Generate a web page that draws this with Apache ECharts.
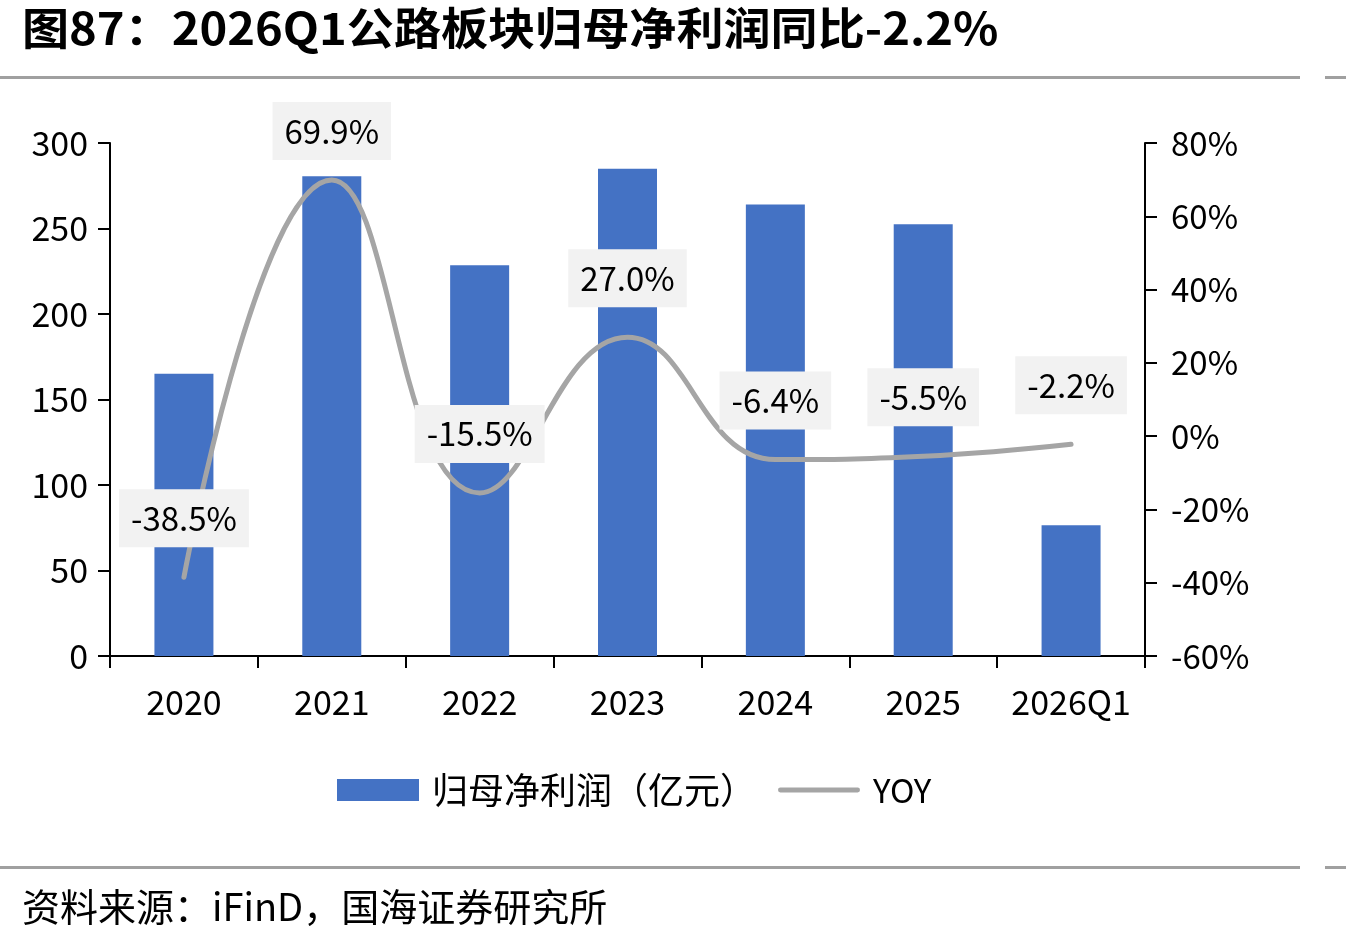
<!DOCTYPE html>
<html>
<head>
<meta charset="utf-8">
<script src="https://cdn.jsdelivr.net/npm/echarts@6/dist/echarts.min.js"></script>
<style>
  html, body { margin: 0; padding: 0; background: #fff; }
  #main { width: 1346px; height: 943px; }
</style>
</head>
<body>
<div id="main"></div>
<script>
// 数据
var years = ['2020', '2021', '2022', '2023', '2024', '2025', '2026Q1']
var profit = [165, 280.5, 228.5, 285, 264, 252.5, 76.5]
var yoy = [-38.5, 69.9, -15.5, 27.0, -6.4, -5.5, -2.2]
var leftTicks = [0, 300, 50]
var rightTicks = [-60, 80, 20]

var font = 'Noto Sans CJK SC'
var myChart = echarts.init(document.getElementById('main'))

var option = {
  animation: false,
  backgroundColor: '#fff',
  textStyle: { fontFamily: font },
  legend: {
    top: 767,
    left: 332,
    itemWidth: 82,
    itemHeight: 22,
    itemGap: 22,
    formatter: function (name) {
      return name === 'YOY' ? '{y|' + name + '}' : name
    },
    textStyle: {
      fontFamily: font,
      fontSize: 36,
      color: '#000',
      padding: [0, 0, 0, 8],
      rich: { y: { fontSize: 33, fontFamily: font, color: '#000' } }
    },
    data: [
      { name: '归母净利润（亿元）', icon: 'rect' },
      { name: 'YOY', icon: 'path://M2.5,0 L83.5,0 A2.5,2.5 0 0 1 83.5,5 L2.5,5 A2.5,2.5 0 0 1 2.5,0 Z' }
    ]
  },
  grid: { left: 110, right: 201, top: 143, bottom: 287 },
  xAxis: [{
    type: 'category',
    data: years,
    axisLine: { lineStyle: { color: '#000', width: 2 } },
    axisTick: { show: true, interval: 0, length: 12, lineStyle: { color: '#000', width: 2 } },
    axisLabel: { margin: 29, fontSize: 34, color: '#000', fontFamily: font, interval: 0 }
  }],
  yAxis: [
    {
      type: 'value',
      min: leftTicks[0],
      max: leftTicks[1],
      interval: leftTicks[2],
      splitLine: { show: false },
      axisLine: { show: true, lineStyle: { color: '#000', width: 2 } },
      axisTick: { show: true, length: 12, lineStyle: { color: '#000', width: 2 } },
      axisLabel: { margin: 22, fontSize: 34, color: '#000', fontFamily: font }
    },
    {
      type: 'value',
      min: rightTicks[0],
      max: rightTicks[1],
      interval: rightTicks[2],
      splitLine: { show: false },
      axisLine: { show: true, lineStyle: { color: '#000', width: 2 } },
      axisTick: { show: true, length: 12, lineStyle: { color: '#000', width: 2 } },
      axisLabel: {
        margin: 26, fontSize: 33, color: '#000', fontFamily: font,
        formatter: function (v) { return v + '%' }
      }
    }
  ],
  series: [
    {
      name: '归母净利润（亿元）',
      type: 'bar',
      barWidth: 59,
      itemStyle: { color: '#4472c4' },
      data: profit
    },
    {
      name: 'YOY',
      type: 'line',
      yAxisIndex: 1,
      smooth: 0.45,
      showSymbol: true,
      symbol: 'circle',
      symbolSize: 0,
      lineStyle: { color: '#a5a5a5', width: 5, cap: 'round' },
      itemStyle: { color: '#a5a5a5' },
      label: {
        show: true,
        position: 'top',
        distance: 30,
        fontSize: 33,
        color: '#000',
        fontFamily: font,
        backgroundColor: '#f2f2f2',
        padding: [10, 12],
        lineHeight: 38,
        formatter: function (p) { return p.value.toFixed(1) + '%' }
      },
      data: yoy.map(function (v, i) {
        if (i === 1) return { value: v, label: { distance: 20 } }
        return v
      })
    }
  ],
  graphic: [
    { type: 'rect', shape: { x: 0, y: 76, width: 1300, height: 3 }, style: { fill: '#a0a0a0' } },
    { type: 'rect', shape: { x: 1325, y: 76, width: 21, height: 3 }, style: { fill: '#a0a0a0' } },
    { type: 'rect', shape: { x: 0, y: 866, width: 1300, height: 3 }, style: { fill: '#a0a0a0' } },
    { type: 'rect', shape: { x: 1325, y: 866, width: 21, height: 3 }, style: { fill: '#a0a0a0' } },
    {
      type: 'text',
      x: 22,
      y: 6,
      scaleX: 1.07,
      style: { text: '图87：2026Q1公路板块归母净利润同比-2.2%', fill: '#000', font: 'bold 44px "Noto Sans CJK SC"' }
    },
    {
      type: 'text',
      x: 22,
      y: 888,
      style: { text: '资料来源：iFinD，国海证券研究所', fill: '#000', font: '38px "Noto Sans CJK SC"' }
    }
  ]
}

myChart.setOption(option)
</script>
</body>
</html>
